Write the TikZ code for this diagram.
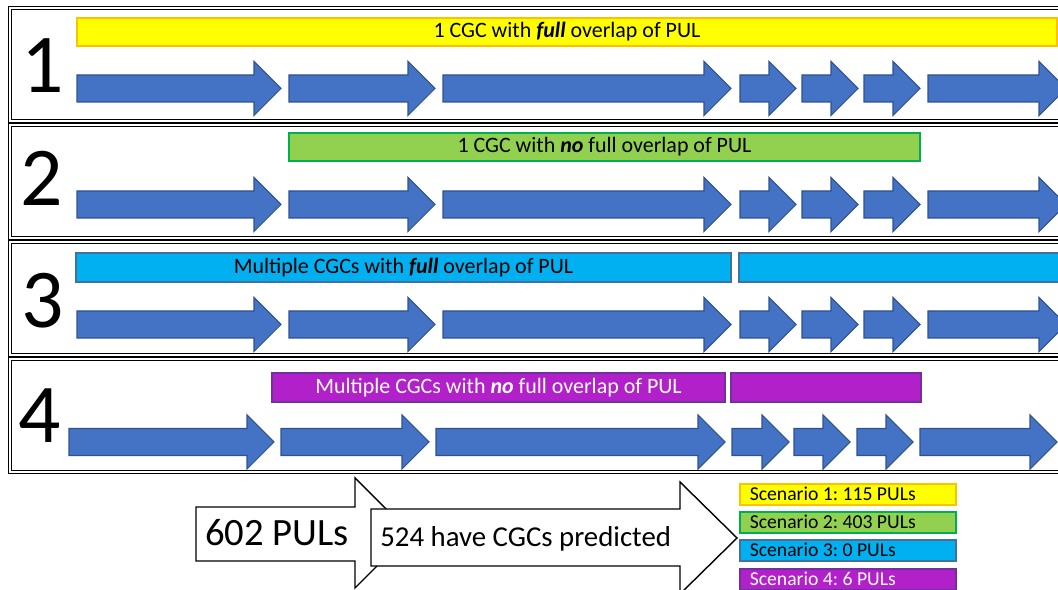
\documentclass[tikz,border=0pt]{standalone}
\usepackage{fontspec}
\setmainfont{Carlito}
\frenchspacing
\definecolor{geneblue}{HTML}{4472C4}
\definecolor{geneedge}{HTML}{2F528F}
\definecolor{cgcyellow}{HTML}{FFFF00}
\definecolor{amberedge}{HTML}{FFC000}
\definecolor{cgcgreen}{HTML}{92D050}
\definecolor{greenedge}{HTML}{00B050}
\definecolor{cgccyan}{HTML}{00B0F0}
\definecolor{cyanedge}{HTML}{41719C}
\definecolor{cgcpurple}{HTML}{B120C9}
\definecolor{purpleedge}{HTML}{7030A0}
\tikzset{
  gene/.style={fill=geneblue, draw=geneedge, line width=0.6pt, line join=miter},
  panel/.style={draw=black, double=white, double distance=0.8pt, line width=0.7pt},
  cgcbar/.style={rectangle, inner sep=0pt, line width=0.9pt, font=\fontsize{12.5}{14}\selectfont},
  scen/.style={rectangle, draw, line width=0.9pt, anchor=north west, minimum width=4.32cm, minimum height=0.42cm,
    inner xsep=0.2cm, inner ysep=0pt, font=\fontsize{11.2}{12}\selectfont},
  bigarr/.style={fill=white, draw=black, line width=0.8pt, line join=miter},
}
% gene arrow: start x, tip x, centre y
\newcommand{\genearrow}[3]{%
  \draw[gene] (#1,#3-13.5) -- (#2-27,#3-13.5) -- (#2-27,#3-27) -- (#2,#3)
    -- (#2-27,#3+27) -- (#2-27,#3+13.5) -- (#1,#3+13.5) -- cycle;}
\newcommand{\scentext}[1]{\makebox[3.92cm][l]{#1}}

\begin{document}
\begin{tikzpicture}[x=0.02cm, y=-0.02cm,
    num/.style={font=\fontsize{47.6}{50}\selectfont, inner sep=0pt, anchor=base}]
  \useasboundingbox (0,0) rectangle (1058,590);
  \clip (0,0) rectangle (1058,590);
  \fill[white] (0,0) rectangle (1058,590);

  % Scenario panels
  \draw[panel] (10,8) rectangle (1075,121);
  \draw[panel] (10,125) rectangle (1075,238);
  \draw[panel] (10,242) rectangle (1075,355);
  \draw[panel] (10,359) rectangle (1075,472);
  \node[num] (n1) at (43,93) {1};
  \node[num] (n2) at (42,206) {2};
  \node[num] (n3) at (43,328) {3};
  \node[num] (n4) at (40,443) {4};

  % Genes of the PUL
  \foreach \y in {88.5,204.5,324.5} {
    \foreach \xa/\xb in {77/281,289/435,443/731,740/796,802/858,864/920,928/1066}
      {\genearrow{\xa}{\xb}{\y}}
  }
  \foreach \xa/\xb in {69/274,281/429,436/725,732/789,794/850,857/913,920/1057}
    {\genearrow{\xa}{\xb}{442}}

  % CGC bars
  \node[cgcbar, draw=amberedge, fill=cgcyellow, minimum width=19.6cm, minimum height=0.56cm] (c1) at (567,32)
    {1 CGC with \textbf{\textit{full}} overlap of PUL};
  \node[cgcbar, draw=greenedge, fill=cgcgreen, minimum width=12.62cm, minimum height=0.56cm] (c2) at (604.5,147)
    {1 CGC with \textbf{\textit{no}} full overlap of PUL};
  \node[cgcbar, draw=cyanedge, fill=cgccyan, minimum width=13.1cm, minimum height=0.58cm] (c3a) at (403.5,267.5)
    {Multiple CGCs with \textbf{\textit{full}} overlap of PUL};
  \node[cgcbar, draw=cyanedge, fill=cgccyan, minimum width=6.72cm, minimum height=0.58cm] (c3b) at (907,267.5) {};
  \node[cgcbar, draw=purpleedge, fill=cgcpurple, text=white, minimum width=9.06cm, minimum height=0.58cm] (c4a) at (498.5,387.5)
    {Multiple CGCs with \textbf{\textit{no}} full overlap of PUL};
  \node[cgcbar, draw=purpleedge, fill=cgcpurple, minimum width=3.8cm, minimum height=0.58cm] (c4b) at (826,387.5) {};

  % Counts
  \draw[bigarr] (196,507) -- (355,507) -- (355,478) -- (410,533) -- (355,588) -- (355,561) -- (196,561) -- cycle;
  \node[anchor=base west, inner sep=0pt, font=\fontsize{22}{24}\selectfont] (total) at (205,546) {602 PULs};
  \draw[bigarr] (371,509) -- (680,509) -- (680,482) -- (737,538) -- (680,594) -- (680,566) -- (371,566) -- cycle;
  \node[anchor=base west, inner sep=0pt, font=\fontsize{16.4}{18}\selectfont] (pred) at (380,547) {524 have CGCs predicted};

  \node[scen, draw=amberedge, fill=cgcyellow] (s1) at (739,483) {\scentext{Scenario 1: 115 PULs}};
  \node[scen, draw=greenedge, fill=cgcgreen] (s2) at (739,511) {\scentext{Scenario 2: 403 PULs}};
  \node[scen, draw=cyanedge, fill=cgccyan] (s3) at (739,539) {\scentext{Scenario 3: 0 PULs}};
  \node[scen, draw=purpleedge, fill=cgcpurple, text=white] (s4) at (739,568) {\scentext{Scenario 4: 6 PULs}};
\end{tikzpicture}
\end{document}
